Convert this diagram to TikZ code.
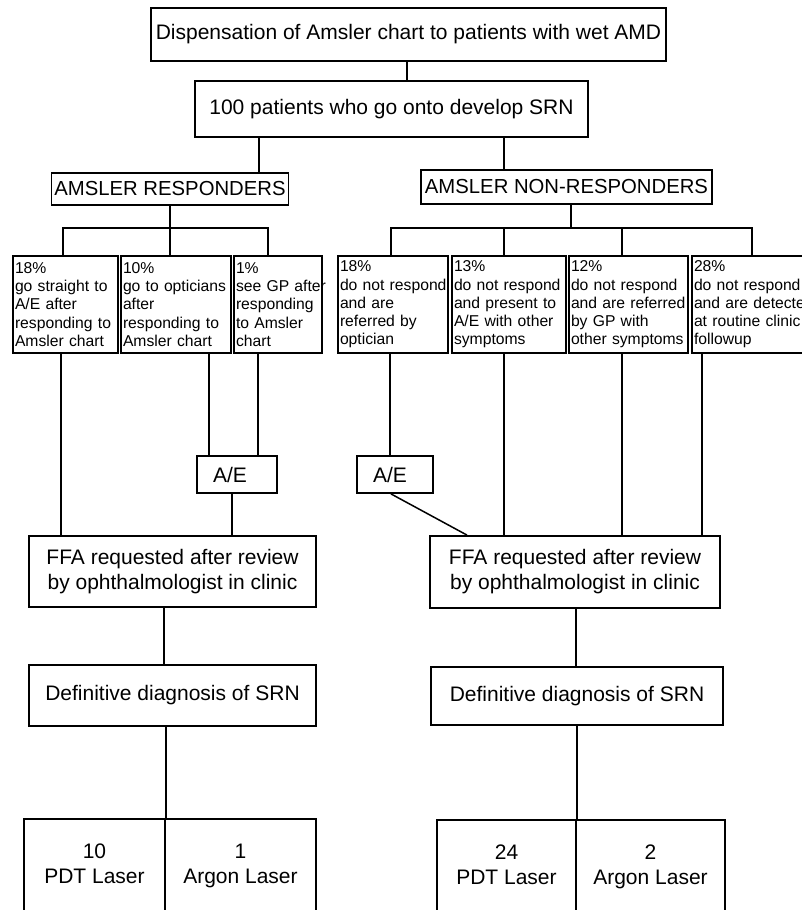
\documentclass[tikz,border=0pt]{standalone}
\usepackage{fontspec}
\setmainfont{Liberation Sans}
\newcommand{\bigtxt}{\fontsize{21}{25}\selectfont}
\newcommand{\headtxt}{\fontsize{20.3}{24}\selectfont}
\newcommand{\smalltxt}{\fontsize{15.7}{18.3}\selectfont\hyphenpenalty=10000\exhyphenpenalty=10000}
\begin{document}
\begin{tikzpicture}[x=1pt,y=-1pt,
  box/.style={draw, line width=1.8pt, inner sep=0pt, font=\bigtxt, align=center},
  head/.style={draw, line width=1.8pt, inner sep=0pt, font=\headtxt},
  small/.style={draw, line width=1.8pt, inner xsep=2pt, inner ysep=0pt, align=left, font=\smalltxt, minimum height=97pt},
  aebox/.style={draw, line width=1.8pt, inner xsep=16pt, inner ysep=0pt, align=left, font=\bigtxt, minimum height=37pt},
  conn/.style={line width=1.5pt}]
\useasboundingbox (0,0) rectangle (802,910);
\clip (0,0) rectangle (802,910);

% top levels
\node[box, minimum width=515pt, minimum height=53pt] (top) at (408.5,34.5) {Dispensation of Amsler chart to patients with wet AMD};
\node[box, minimum width=393pt, minimum height=56pt] (pat) at (391.5,109) {100 patients who go onto develop SRN};
\node[head, minimum width=237pt, minimum height=32pt] (resp) at (170,189) {AMSLER RESPONDERS};
\node[head, minimum width=291pt, minimum height=34pt] (nonr) at (566.5,187) {AMSLER NON-RESPONDERS};

% small boxes
\node[small, text width=101pt] (b1) at (65.5,304.5) {18\%\\go~straight~to\\A/E~after\\responding~to\\Amsler~chart};
\node[small, text width=106pt] (b2) at (176,304.5) {10\%\\go~to~opticians\\after\\responding~to\\Amsler~chart};
\node[small, text width=84pt] (b3) at (278,304.5) {1\%\\see~GP~after\\responding\\to~Amsler\\chart};
\node[small, text width=106pt] (b4) at (393,304.5) {18\%\\do~not~respond\\and~are\\referred~by\\optician};
\node[small, text width=110pt] (b5) at (509,304.5) {13\%\\do~not~respond\\and~present~to\\A/E~with~other\\symptoms};
\node[small, text width=115pt] (b6) at (628.5,304.5) {12\%\\do~not~respond\\and~are~referred\\by~GP~with\\other~symptoms};
\node[small, text width=144pt] (b7) at (766,304.5) {28\%\\do~not~respond\\and~are~detected\\at~routine~clinic\\followup};

% A/E boxes
\node[aebox, text width=48pt] (aeL) at (237,474.5) {A/E};
\node[aebox, text width=44pt] (aeR) at (395,474.5) {A/E};

% FFA
\node[box, minimum width=287pt, minimum height=71pt] (ffaL) at (172.5,571.5) {FFA requested after review\\by ophthalmologist in clinic};
\node[box, minimum width=290pt, minimum height=72pt] (ffaR) at (575,572) {FFA requested after review\\by ophthalmologist in clinic};

% diagnosis
\node[box, minimum width=287pt, minimum height=61pt] (diagL) at (172.5,695.5) {Definitive diagnosis of SRN};
\node[box, minimum width=292pt, minimum height=58pt] (diagR) at (577,696) {Definitive diagnosis of SRN};

% treatment cells
\node[box, minimum width=141pt, minimum height=94pt] (pdtL) at (94.5,866) {10\strut\\PDT Laser\strut};
\node[box, minimum width=151pt, minimum height=94pt] (argL) at (240.5,866) {1\strut\\Argon Laser\strut};
\node[box, minimum width=139pt, minimum height=93pt] (pdtR) at (506.5,866.5) {24\strut\\PDT Laser\strut};
\node[box, minimum width=149pt, minimum height=93pt] (argR) at (650.5,866.5) {2\strut\\Argon Laser\strut};

% connectors
\draw[conn] (top.south -| 407,0) -- (pat.north -| 407,0);
\draw[conn] (pat.south -| 259,0) -- (resp.north -| 259,0);
\draw[conn] (pat.south -| 504,0) -- (nonr.north -| 504,0);

\coordinate (jR) at (170,228);
\draw[conn] (resp.south) -- (jR);
\draw[conn] (b1.north -| 63,0) -- (63,228) -- (268,228) -- (b3.north -| 268,0);
\draw[conn] (jR) -- (b2.north -| jR);

\coordinate (jN) at (571,228);
\draw[conn] (nonr.south -| jN) -- (jN);
\draw[conn] (b4.north -| 391,0) -- (391,228) -- (752,228) -- (b7.north -| 752,0);
\draw[conn] (504,228) -- (b5.north -| 504,0);
\draw[conn] (622,228) -- (b6.north -| 622,0);

\draw[conn] (b1.south -| 61,0) -- (ffaL.north -| 61,0);
\draw[conn] (b2.south -| 209,0) -- (aeL.north -| 209,0);
\draw[conn] (b3.south -| 258,0) -- (aeL.north -| 258,0);
\draw[conn] (aeL.south -| 232,0) -- (ffaL.north -| 232,0);
\draw[conn] (b4.south -| 390,0) -- (aeR.north -| 390,0);
\draw[conn] (aeR.south -| 391,0) -- (ffaR.north -| 467,0);
\draw[conn] (b5.south -| 504,0) -- (ffaR.north -| 504,0);
\draw[conn] (b6.south -| 622,0) -- (ffaR.north -| 622,0);
\draw[conn, line width=2pt] (b7.south -| 702,0) -- (ffaR.north -| 702,0);

\draw[conn] (ffaL.south -| 164,0) -- (diagL.north -| 164,0);
\draw[conn] (diagL.south -| pdtL.north east) -- (pdtL.north east);
\draw[conn] (ffaR.south -| 576,0) -- (diagR.north -| 576,0);
\draw[conn] (diagR.south -| pdtR.north east) -- (pdtR.north east);
\end{tikzpicture}
\end{document}
